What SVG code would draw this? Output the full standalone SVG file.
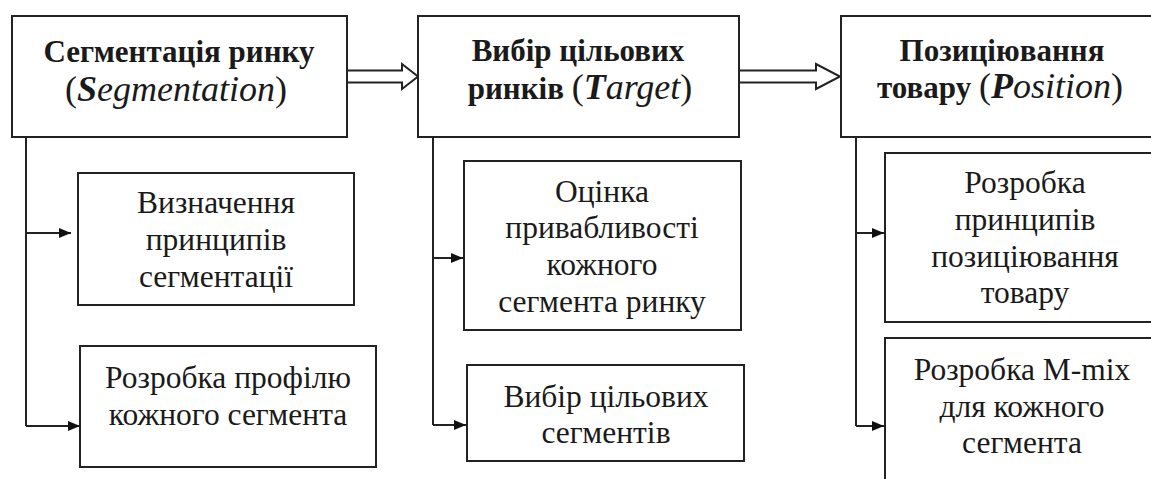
<svg xmlns="http://www.w3.org/2000/svg" width="1151" height="479" viewBox="0 0 1151 479">
<style>
.box{fill:#fff;stroke:#222;stroke-width:2}
.t{font-family:'Liberation Serif','Times New Roman',Tinos,'DejaVu Serif',serif;fill:#1a1a1a;text-anchor:middle}
.h{font-size:31px;font-weight:bold}
.r{font-size:31.5px}
.i{font-style:italic;font-weight:normal;font-size:36px}
.bi{font-style:italic;font-weight:bold;font-size:36px}
.n{font-weight:normal;font-size:36px}
.ln{fill:none;stroke:#222;stroke-width:2}
.dbl{fill:#fff;stroke:#222;stroke-width:2;stroke-linejoin:miter}
</style>
<defs>
<marker id="ah" markerWidth="12" markerHeight="10" refX="12" refY="5" orient="auto" markerUnits="userSpaceOnUse">
<path d="M0,0 L12,5 L0,10 Z" fill="#111"/>
</marker>
</defs>
<rect width="1151" height="479" fill="#fff"/>
<g id="connectors">
<path class="dbl" d="M347,70.5 H402 V64 L418,76.5 L402,89 V82.5 H347"/>
<path class="dbl" d="M739,70.5 H816 V64 L840,76.5 L816,89 V82.5 H739"/>
<path class="ln" d="M26,137 V426"/>
<path class="ln" d="M26,233 H71" marker-end="url(#ah)"/>
<path class="ln" d="M26,426 H80" marker-end="url(#ah)"/>
<path class="ln" d="M433,137 V425"/>
<path class="ln" d="M433,258 H463" marker-end="url(#ah)"/>
<path class="ln" d="M433,425 H466" marker-end="url(#ah)"/>
<path class="ln" d="M856,137 V426"/>
<path class="ln" d="M856,233 H884" marker-end="url(#ah)"/>
<path class="ln" d="M856,426 H884" marker-end="url(#ah)"/>
</g>
<g id="node-segmentation">
<rect class="box" x="12" y="16" width="335" height="121"/>
<text class="t h" x="179" y="62">Сегментація ринку</text>
<text class="t h" x="176" y="101"><tspan class="n">(</tspan><tspan class="bi">S</tspan><tspan class="i">egmentation</tspan><tspan class="n">)</tspan></text>
</g>
<g id="node-target">
<rect class="box" x="418" y="16" width="321" height="121"/>
<text class="t h" x="578" y="61">Вибір цільових</text>
<text class="t h" x="580" y="99">ринків <tspan class="n">(</tspan><tspan class="bi">T</tspan><tspan class="i">arget</tspan><tspan class="n">)</tspan></text>
</g>
<g id="node-position">
<rect class="box" x="841" y="16" width="330" height="121"/>
<text class="t h" x="1002" y="61">Позиціювання</text>
<text class="t h" x="1000" y="98">товару <tspan class="n">(</tspan><tspan class="bi">P</tspan><tspan class="i">osition</tspan><tspan class="n">)</tspan></text>
</g>
<g id="node-principles">
<rect class="box" x="78" y="173" width="276" height="132"/>
<text class="t r" x="216" y="213">Визначення</text>
<text class="t r" x="216" y="250">принципів</text>
<text class="t r" x="216" y="287">сегментації</text>
</g>
<g id="node-profile">
<rect class="box" x="80" y="346" width="296" height="121"/>
<text class="t r" x="228" y="388">Розробка профілю</text>
<text class="t r" x="228" y="425">кожного сегмента</text>
</g>
<g id="node-evaluation">
<rect class="box" x="464" y="161" width="277" height="169"/>
<text class="t r" x="602" y="202">Оцінка</text>
<text class="t r" x="602" y="238">привабливості</text>
<text class="t r" x="602" y="275">кожного</text>
<text class="t r" x="602" y="312">сегмента ринку</text>
</g>
<g id="node-choice">
<rect class="box" x="467" y="365" width="277" height="96"/>
<text class="t r" x="606" y="407">Вибір цільових</text>
<text class="t r" x="606" y="443">сегментів</text>
</g>
<g id="node-pos-principles">
<rect class="box" x="885" y="153" width="285" height="169"/>
<text class="t r" x="1025" y="193">Розробка</text>
<text class="t r" x="1025" y="230">принципів</text>
<text class="t r" x="1025" y="267">позиціювання</text>
<text class="t r" x="1025" y="303">товару</text>
</g>
<g id="node-mmix">
<rect class="box" x="885" y="338" width="285" height="160"/>
<text class="t r" x="1022" y="380">Розробка M-mix</text>
<text class="t r" x="1022" y="417">для кожного</text>
<text class="t r" x="1022" y="453">сегмента</text>
</g>
</svg>
